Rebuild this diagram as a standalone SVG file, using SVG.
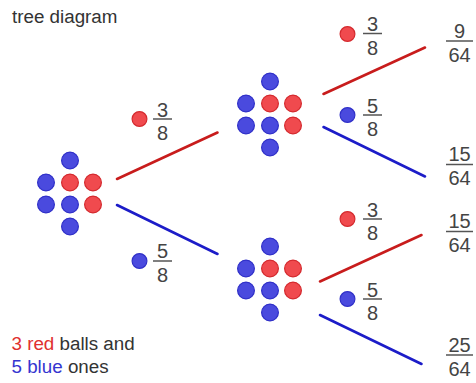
<svg xmlns="http://www.w3.org/2000/svg" xmlns:xlink="http://www.w3.org/1999/xlink" width="476" height="383" viewBox="0 0 476 383">
<style>
.r{fill:#f04a4e;stroke:#d42a2e;stroke-width:1.2}
.b{fill:#4a4ade;stroke:#3030c8;stroke-width:1.2}
.t{font-family:"Liberation Sans",Arial,sans-serif;font-size:18.8px;fill:#333}
.f{font-family:"Liberation Sans",Arial,sans-serif;font-size:20px;fill:#444;text-anchor:middle}
.bar{stroke:#555;stroke-width:1.5}
.lr{stroke:#c81c1c;stroke-width:2.6;stroke-linecap:round}
.lb{stroke:#1c1cc8;stroke-width:2.6;stroke-linecap:round}
</style>
<defs>
<g id="cl">
<circle class="b" cx="0" cy="-22" r="8.4"/>
<circle class="b" cx="-24" cy="0" r="8.4"/>
<circle class="r" cx="0" cy="0" r="8.4"/>
<circle class="r" cx="23" cy="0" r="8.4"/>
<circle class="b" cx="-24" cy="22" r="8.4"/>
<circle class="b" cx="0" cy="22" r="8.4"/>
<circle class="r" cx="23" cy="22" r="8.4"/>
<circle class="b" cx="0" cy="44" r="8.4"/>
</g>
</defs>
<rect width="476" height="383" fill="#fff"/>
<text class="t" x="12" y="23">tree diagram</text>
<text class="t" x="11.5" y="350"><tspan fill="#e03030">3 red</tspan> balls and</text>
<text class="t" x="11.5" y="373"><tspan fill="#3535d0">5 blue</tspan> ones</text>

<g id="connectors">
<line class="lr" x1="117" y1="179" x2="217.5" y2="132.5"/>
<line class="lb" x1="117" y1="205" x2="217.5" y2="254"/>
<line class="lr" x1="323.5" y1="94" x2="425" y2="47.5"/>
<line class="lb" x1="323.5" y1="127" x2="425" y2="176.5"/>
<line class="lr" x1="320" y1="281.5" x2="421.5" y2="235"/>
<line class="lb" x1="320" y1="315" x2="421.5" y2="364"/>
</g>

<g id="start"><use xlink:href="#cl" x="70" y="182.5"/></g>
<g id="after-red"><use xlink:href="#cl" x="270" y="103.5"/></g>
<g id="after-blue"><use xlink:href="#cl" x="270" y="268.5"/></g>

<g id="p1"><circle class="r" cx="139.5" cy="119" r="7.4"/><line class="bar" x1="153" y1="119" x2="172" y2="119"/><text class="f" x="162.5" y="117">3</text><text class="f" x="162.5" y="140">8</text></g>
<g id="p2"><circle class="b" cx="139.5" cy="261" r="7.4"/><line class="bar" x1="153" y1="261" x2="172" y2="261"/><text class="f" x="162.5" y="258">5</text><text class="f" x="162.5" y="282">8</text></g>
<g id="p3"><circle class="r" cx="347.5" cy="34" r="7.4"/><line class="bar" x1="363" y1="33.5" x2="382" y2="33.5"/><text class="f" x="372.5" y="31">3</text><text class="f" x="372.5" y="54.5">8</text></g>
<g id="p4"><circle class="b" cx="347.5" cy="115" r="7.4"/><line class="bar" x1="363" y1="115" x2="382" y2="115"/><text class="f" x="372.5" y="112.5">5</text><text class="f" x="372.5" y="136">8</text></g>
<g id="p5"><circle class="r" cx="347.5" cy="219" r="7.4"/><line class="bar" x1="363" y1="219" x2="382" y2="219"/><text class="f" x="372.5" y="216.5">3</text><text class="f" x="372.5" y="240">8</text></g>
<g id="p6"><circle class="b" cx="347.5" cy="299" r="7.4"/><line class="bar" x1="363" y1="299" x2="382" y2="299"/><text class="f" x="372.5" y="296.5">5</text><text class="f" x="372.5" y="320">8</text></g>

<g id="r1"><line class="bar" x1="446" y1="41" x2="473" y2="41"/><text class="f" x="459.5" y="37.5">9</text><text class="f" x="459.5" y="61.5">64</text></g>
<g id="r2"><line class="bar" x1="446" y1="164.5" x2="473" y2="164.5"/><text class="f" x="459.5" y="161">15</text><text class="f" x="459.5" y="185">64</text></g>
<g id="r3"><line class="bar" x1="446" y1="231.5" x2="473" y2="231.5"/><text class="f" x="459.5" y="228">15</text><text class="f" x="459.5" y="252">64</text></g>
<g id="r4"><line class="bar" x1="446" y1="355" x2="473" y2="355"/><text class="f" x="459.5" y="351.5">25</text><text class="f" x="459.5" y="375.5">64</text></g>
</svg>
